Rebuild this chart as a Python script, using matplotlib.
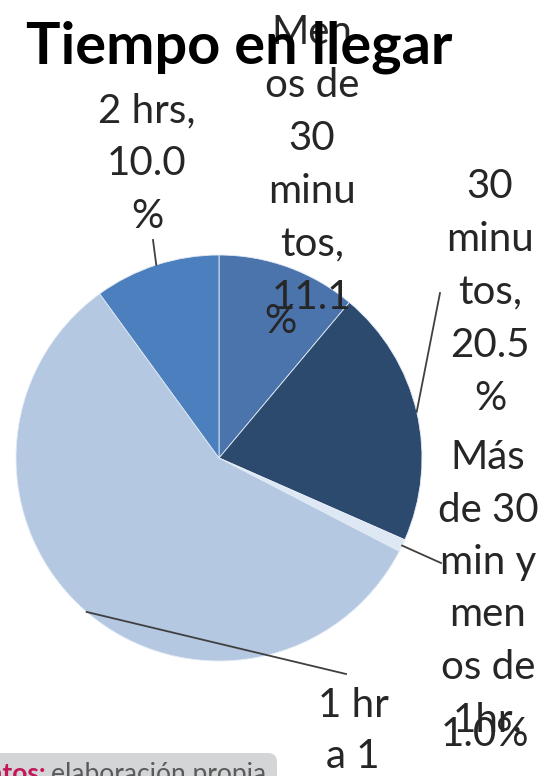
import matplotlib.pyplot as plt
from matplotlib.patches import FancyBboxPatch
import numpy as np

W, H = 543, 776

TITLE = "Tiempo en llegar"
CATEGORIES = ["Menos de 30 minutos", "30 minutos", "Más de 30 min y menos de 1hr",
              "1 hr a 1 hr 59 min", "2 hrs"]
VALUES = [11.1, 20.5, 1.0, 57.4, 10.0]
COLORS = ["#4a74ab", "#2c4a6e", "#dde8f4", "#b4c8e1", "#4c7fbe"]

# data labels, wrapped the way the narrow label boxes wrapped them
LBL_MENOS = ["Men", "os de", "30", "minu", "tos,", "11.1"]
LBL_30 = ["30", "minu", "tos,", "20.5", "%"]
LBL_MAS = ["Más", "de 30", "min y", "men", "os de", "1hr,"]
LBL_1HR = ["1 hr", "a 1"]
LBL_2HRS = ["2 hrs,", "10.0", "%"]

FONT = "Lato"
TXT = "#262626"


def Y(y):
    # image pixel row -> data y (axes runs bottom-up)
    return H - y


def label_lines(ax, x, y0, lines, step=53, size=29):
    for i, s in enumerate(lines):
        ax.text(x, Y(y0 + i * step), s, ha="center", va="baseline",
                fontsize=size, family=FONT, color=TXT, zorder=3)


def edge_point(w, cx, cy, r):
    a = np.deg2rad((w.theta1 + w.theta2) / 2)
    return cx + r * np.cos(a), cy + r * np.sin(a)


def main():
    fig = plt.figure(figsize=(W / 100, H / 100), dpi=100)
    ax = fig.add_axes([0, 0, 1, 1])

    cx, cy, r = 219, Y(458), 203
    wedges, _ = ax.pie(VALUES, colors=COLORS, startangle=90, counterclock=False,
                       center=(cx, cy), radius=r,
                       wedgeprops=dict(linewidth=0.6, edgecolor="#e4ecf6"))
    ax.set_xlim(0, W)
    ax.set_ylim(0, H)
    ax.set_aspect("equal")
    ax.axis("off")

    # leader lines from the middle of each slice edge to its label
    ends = {1: (440, 293), 2: (441, 563), 3: (346, 674), 4: (153, 240)}
    for i, (ex, ey) in ends.items():
        px, py = edge_point(wedges[i], cx, cy, r)
        ax.plot([px, ex], [py, Y(ey)], color="#404040", lw=1.3, zorder=2)

    label_lines(ax, 147, 122, LBL_2HRS)
    label_lines(ax, 312, 44, LBL_MENOS)
    ax.text(280, Y(333), "%", ha="center", va="baseline", fontsize=29,
            family=FONT, color=TXT, zorder=3)
    label_lines(ax, 490, 198, LBL_30)
    label_lines(ax, 488, 469, LBL_MAS, step=52.5)
    ax.text(485, Y(746), "1.0%", ha="center", va="baseline", fontsize=29,
            family=FONT, color=TXT, zorder=3)
    label_lines(ax, 353, 717, LBL_1HR, step=51)

    ax.text(26, Y(63), TITLE, ha="left", va="baseline", fontsize=41.5,
            family=FONT, fontweight="bold", color="black", zorder=4)

    # source box at the bottom left, cut by the screenshot
    box = FancyBboxPatch((-30, Y(800)), 307, 47,
                         boxstyle="round,pad=0,rounding_size=9",
                         facecolor="#d4d5d7", edgecolor="none", zorder=1)
    ax.add_patch(box)
    ax.text(46, Y(782), "Datos:", ha="right", va="baseline", fontsize=19,
            family=FONT, fontweight="bold", color="#c2185b", zorder=3)
    ax.text(51, Y(782), "elaboración propia", ha="left", va="baseline",
            fontsize=19, family=FONT, color="#5a5a5a", zorder=3)

    fig.savefig("out.png", dpi=100)


if __name__ == "__main__":
    main()
